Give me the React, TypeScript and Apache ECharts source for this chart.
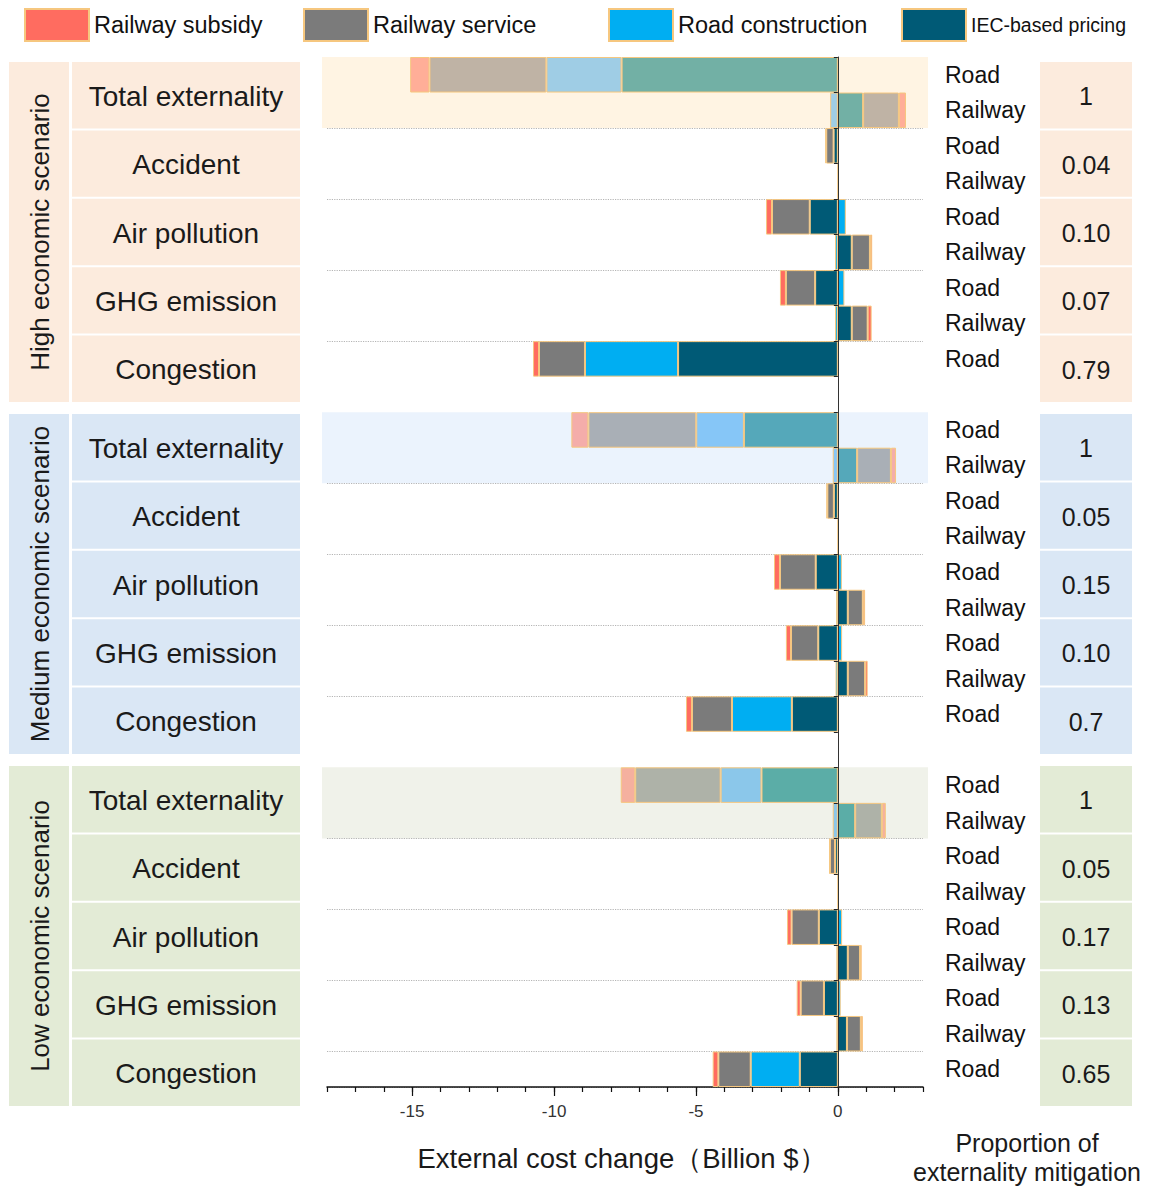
import React, { useEffect, useRef } from "react";
import * as echarts from "echarts";

const scenarioNames = ["High economic scenario", "Medium economic scenario", "Low economic scenario"];
const scenarioKeys = ["High", "Medium", "Low"];
const externalities = ["Total externality", "Accident", "Air pollution", "GHG emission", "Congestion"];
const rowGroups = ["Total", "Total", "Accident", "Accident", "Air", "Air", "GHG", "GHG", "Congestion"];
const rowModes = ["Road", "Railway", "Road", "Railway", "Road", "Railway", "Road", "Railway", "Road"];
const proportions = [
  ["1", "0.04", "0.10", "0.07", "0.79"],
  ["1", "0.05", "0.15", "0.10", "0.7"],
  ["1", "0.05", "0.17", "0.13", "0.65"],
];
const xTickLabels = [-15, -10, -5, 0];

// rows: TotRoad, TotRail, AccRoad, AccRail, AirRoad, AirRail, GHGRoad, GHGRail, CongRoad
const iecHigh = [-7.62, 0.89, -0.15, 0.01, -0.99, 0.49, -0.8, 0.49, -5.63];
const iecMedium = [-3.31, 0.68, -0.14, 0.01, -0.78, 0.35, -0.69, 0.35, -1.62];
const iecLow = [-2.69, 0.61, -0.1, 0.01, -0.67, 0.35, -0.49, 0.32, -1.34];

const roadHigh = [-2.65, -0.27, 0, 0, 0.28, -0.1, 0.23, -0.1, -3.28];
const roadMedium = [-1.68, -0.18, 0, 0, 0.14, -0.06, 0.15, -0.08, -2.11];
const roadLow = [-1.44, -0.18, 0, 0, 0.15, -0.05, 0.1, -0.05, -1.73];

const serviceHigh = [-4.12, 1.26, -0.26, 0.02, -1.33, 0.64, -1.03, 0.56, -1.62];
const serviceMedium = [-3.8, 1.19, -0.23, 0.02, -1.26, 0.53, -0.96, 0.61, -1.41];
const serviceLow = [-3.01, 0.94, -0.18, 0.02, -0.96, 0.43, -0.82, 0.49, -1.14];

const subsidyHigh = [-0.68, 0.25, -0.03, 0, -0.21, 0.08, -0.21, 0.14, -0.21];
const subsidyMedium = [-0.6, 0.18, -0.03, 0, -0.21, 0.08, -0.18, 0.09, -0.21];
const subsidyLow = [-0.51, 0.14, -0.02, 0, -0.16, 0.06, -0.14, 0.07, -0.2];

const seriesNames = ["IEC-based pricing", "Road construction", "Railway service", "Railway subsidy"];
const seriesColors = ["#005A76", "#00AEF2", "#7B7B7B", "#FF6C60"];
const totalColors = [
  ["#72B0A5", "#55A8BA", "#5BADA7"],
  ["#9FCDE5", "#86C6F7", "#8BC7EA"],
  ["#BFB3A5", "#A9AFB6", "#AEB2A8"],
  ["#FFAE98", "#F4ADAA", "#F5B09F"],
];
const seriesData = [
  [iecHigh, iecMedium, iecLow],
  [roadHigh, roadMedium, roadLow],
  [serviceHigh, serviceMedium, serviceLow],
  [subsidyHigh, subsidyMedium, subsidyLow],
];
const plotBg = ["#FFF4E3", "#EBF3FD", "#F0F2EA"];
const panelBg = ["#FCEBDD", "#DAE7F5", "#E3EBD6"];

const FONT = "'Liberation Sans', Arial, sans-serif";

const categories: string[] = [];
scenarioKeys.forEach((k, s) => {
  rowGroups.forEach((g, r) => categories.push(`${k}|${g}|${rowModes[r]}`));
  if (s < scenarioKeys.length - 1) categories.push(`gap${s}`);
});

const GRID = { left: 327, top: 57, width: 596, height: 1030 };

export default function App() {
  const ref = useRef<HTMLDivElement>(null);
  useEffect(() => {
    if (!ref.current) return;
    const chart = echarts.init(ref.current, undefined, { renderer: "svg" });

    const splitIdx = new Set<number>();
    scenarioKeys.forEach((_, s) => [2, 4, 6, 8].forEach((o) => splitIdx.add(s * 10 + o)));

    const series = seriesNames.map((name, si) => {
      const data: any[] = [];
      scenarioKeys.forEach((_, s) => {
        seriesData[si][s].forEach((v, r) => {
          if (v === 0) data.push(null);
          else if (r < 2) data.push({ value: v, itemStyle: { color: totalColors[si][s] } });
          else data.push(v);
        });
        if (s < scenarioKeys.length - 1) data.push(null);
      });
      return {
        name,
        type: "bar",
        stack: "all",
        barCategoryGap: "0%",
        data,
        itemStyle: { color: seriesColors[si], borderColor: "#F6C77F", borderWidth: 1 },
        emphasis: { disabled: true },
      };
    });

    const legendPos = [
      { name: "Railway subsidy", left: 24, size: 23.5 },
      { name: "Railway service", left: 303, size: 23.5 },
      { name: "Road construction", left: 608, size: 23.5 },
      { name: "IEC-based pricing", left: 901, size: 19.5 },
    ];

    chart.setOption({
      animation: false,
      textStyle: { fontFamily: FONT },
      legend: legendPos.map((l) => ({
        data: [l.name],
        left: l.left,
        top: 8,
        padding: 0,
        itemWidth: 64,
        itemHeight: 32,
        selectedMode: false,
        icon: "rect",
        textStyle: { fontSize: l.size, color: "#111", fontFamily: FONT },
      })),
      grid: GRID,
      xAxis: [
        {
          type: "value",
          min: -18,
          max: 3,
          interval: 1,
          position: "bottom",
          axisLine: { show: true, onZero: false, lineStyle: { color: "#111", width: 1.5 } },
          axisTick: { show: true, length: 5, lineStyle: { color: "#111", width: 1.2 } },
          axisLabel: {
            fontSize: 17,
            color: "#333",
            margin: 16,
            fontFamily: FONT,
            formatter: (v: number) => (xTickLabels.indexOf(v) >= 0 ? String(v) : ""),
          },
          splitLine: { show: false },
        },
        {
          type: "value",
          min: -18,
          max: 3,
          position: "bottom",
          axisLine: { show: false, onZero: false },
          axisTick: { show: true, length: 9, customValues: xTickLabels, lineStyle: { color: "#111", width: 1.2 } },
          axisLabel: { show: false },
          splitLine: { show: false },
        },
      ],
      yAxis: [
        {
          type: "category",
          data: categories,
          inverse: true,
          position: "left",
          axisLine: { show: false, onZero: false },
          axisTick: { show: false },
          axisLabel: { show: false },
          splitLine: {
            show: true,
            interval: (idx: number) => splitIdx.has(idx),
            lineStyle: { color: "#B5B5B5", type: "dotted", width: 1.2 },
          },
        },
        {
          type: "category",
          data: categories,
          inverse: true,
          position: "right",
          axisLine: { show: false, onZero: false },
          axisTick: { show: false },
          axisLabel: {
            show: true,
            align: "left",
            margin: 22,
            fontSize: 23,
            color: "#111",
            fontFamily: FONT,
            interval: 0,
            formatter: (v: string) => (v.startsWith("gap") ? "" : v.split("|")[2]),
          },
          splitLine: { show: false },
        },
        {
          type: "category",
          data: categories,
          inverse: true,
          position: "left",
          z: 5,
          axisLine: { show: true, onZero: true, onZeroAxisIndex: 0, lineStyle: { color: "#333", width: 1 } },
          axisTick: { show: true, length: 4, lineStyle: { color: "#222" } },
          axisLabel: { show: false },
          splitLine: { show: false },
        },
      ],
      series,
    });

    const band = GRID.height / categories.length;
    const graphics: any[] = [];
    scenarioKeys.forEach((k, s) => {
      const yc = chart.convertToPixel({ yAxisIndex: 0 } as any, `${k}|Total|Road`) as number;
      graphics.push({
        type: "rect",
        z: -5,
        silent: true,
        shape: { x: GRID.left - 5, y: yc - band / 2, width: GRID.width + 10, height: band * 2 },
        style: { fill: plotBg[s] },
      });
    });
    const blockH = 340;
    const gap = 2;
    const rowH = (blockH - gap * 4) / 5;
    const txt = (x: number, y: number, text: string, size: number, extra: any = {}) => ({
      type: "text",
      x,
      y,
      ...extra,
      style: {
        text,
        font: `${size}px ${FONT}`,
        fill: "#1a1a1a",
        textAlign: "center",
        textVerticalAlign: "middle",
      },
    });
    scenarioNames.forEach((name, s) => {
      const y0 = 62 + s * 352;
      graphics.push({
        type: "rect",
        shape: { x: 9, y: y0, width: 60, height: blockH },
        style: { fill: panelBg[s] },
      });
      graphics.push(txt(40, y0 + blockH / 2, name, 26, { rotation: Math.PI / 2 }));
      externalities.forEach((ex, r) => {
        const y = y0 + r * (rowH + gap);
        graphics.push({
          type: "rect",
          shape: { x: 72, y, width: 228, height: rowH },
          style: { fill: panelBg[s] },
        });
        graphics.push(txt(186, y + rowH / 2 + 1, ex, 28));
        graphics.push({
          type: "rect",
          shape: { x: 1040, y, width: 92, height: rowH },
          style: { fill: panelBg[s] },
        });
        graphics.push(txt(1086, y + rowH / 2 + 1, proportions[s][r], 25));
      });
    });
    graphics.push(txt(622, 1158, "External cost change（Billion $）", 27.5));
    graphics.push(txt(1027, 1143, "Proportion of", 25));
    graphics.push(txt(1027, 1172, "externality mitigation", 25));
    chart.setOption({ graphic: graphics });

    return () => chart.dispose();
  }, []);
  return (
    <div
      ref={ref}
      style={{ position: "absolute", left: 0, top: 0, width: 1151, height: 1187, background: "#fff" }}
    />
  );
}
